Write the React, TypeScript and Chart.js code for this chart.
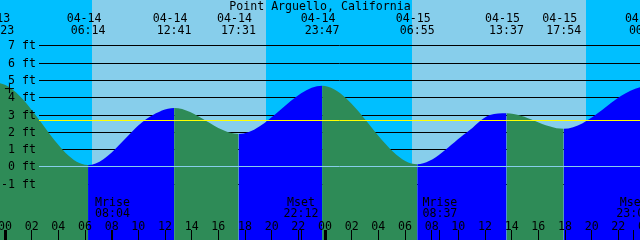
import React, { useEffect, useRef } from 'react';
import { Chart, registerables } from 'chart.js';

Chart.register(...registerables);

// ---- Data -------------------------------------------------------------
const TITLE = 'Point Arguello, California';

// Tide extremes ("MM-DD HH:MM") and heights (ft). First and last lie off-screen.
const extremeTimes = [
  '04-13 17:10', '04-13 23:23', '04-14 06:14', '04-14 12:41', '04-14 17:31',
  '04-14 23:47', '04-15 06:55', '04-15 13:37', '04-15 17:54', '04-16 00:06', '04-16 07:35',
];
const extremeHeights = [1.6, 4.85, 0.1, 3.4, 1.9, 4.7, 0.15, 3.1, 2.2, 4.65, 0.2];

// Extra heights
const midTimes = ['04-14 10:52', '04-15 10:39', '04-15 12:22'];
const midHeights = [2.9, 2.0, 3.0];

const sunriseTimes = ['04-14 06:30', '04-15 06:30'];
const sunsetTimes = ['04-14 19:33', '04-15 19:33'];

const moonLabels = ['Mrise', 'Mset', 'Mrise', 'Mset'];
const moonTimes = ['04-14 08:04', '04-14 22:12', '04-15 08:37', '04-15 23:09'];

const nowTimes = ['04-14 00:20'];
const nowHeights = [4.53];

const depthTicks = [-1, 0, 1, 2, 3, 4, 5, 6, 7];
const hourTicks = [0, 2, 4, 6, 8, 10, 12, 14, 16, 18, 20, 22, 24, 26, 28, 30, 32, 34, 36, 38, 40, 42, 44, 46, 48];
const hourLabels = ['00', '02', '04', '06', '08', '10', '12', '14', '16', '18', '20', '22',
  '00', '02', '04', '06', '08', '10', '12', '14', '16', '18', '20', '22', '00'];
const meanLevel = 2.67;

// ---- Style ------------------------------------------------------------
const X_MIN = -0.375;
const X_MAX = 47.625;
const Y_MIN = -4.236;
const Y_MAX = 9.658;
const NIGHT = '#00BFFF';
const DAY = '#87CEEB';
const FLOOD = '#0000FF';
const EBB = '#2E8B57';
const DATUM = '#87CEEB';
const MSL = '#FFFF00';
const FONT = '11.6px "DejaVu Sans Mono", monospace';

function toHours(s: string): number {
  const [md, hm] = s.split(' ');
  const day = parseInt(md.split('-')[1], 10);
  const [hh, mm] = hm.split(':').map(Number);
  return (day - 14) * 24 + hh + mm / 60;
}

const tidePoints = [
  ...extremeTimes.map((t, i) => ({ x: toHours(t), y: extremeHeights[i] })),
  ...midTimes.map((t, i) => ({ x: toHours(t), y: midHeights[i] })),
].sort((a, b) => a.x - b.x);

const decorPlugin = {
  id: 'tideDecor',
  beforeDatasetsDraw(chart: any) {
    const { ctx, width, height } = chart;
    const x = chart.scales.x;
    const y = chart.scales.y;
    ctx.save();
    ctx.fillStyle = NIGHT;
    ctx.fillRect(0, 0, width, height);
    ctx.fillStyle = DAY;
    for (let i = 0; i < sunriseTimes.length; i++) {
      const a = Math.round(x.getPixelForValue(toHours(sunriseTimes[i])));
      const b = Math.round(x.getPixelForValue(toHours(sunsetTimes[i])));
      ctx.fillRect(a, 0, b - a, height);
    }
    ctx.strokeStyle = '#000';
    ctx.lineWidth = 1;
    for (const v of depthTicks) {
      if (v === 0) continue;
      const row = Math.round(y.getPixelForValue(v) - 0.5);
      ctx.beginPath();
      ctx.moveTo(39, row + 0.5);
      ctx.lineTo(width, row + 0.5);
      ctx.stroke();
    }
    ctx.restore();
  },
  afterDatasetsDraw(chart: any) {
    const { ctx, width } = chart;
    const x = chart.scales.x;
    const y = chart.scales.y;
    ctx.save();
    ctx.lineWidth = 1;
    const hline = (v: number, color: string) => {
      const row = Math.round(y.getPixelForValue(v) - 0.5);
      ctx.strokeStyle = color;
      ctx.beginPath();
      ctx.moveTo(39, row + 0.5);
      ctx.lineTo(width, row + 0.5);
      ctx.stroke();
    };
    hline(0, DATUM);
    hline(meanLevel, MSL);

    ctx.font = FONT;
    ctx.fillStyle = '#000';
    ctx.textBaseline = 'alphabetic';

    // depth labels
    ctx.textAlign = 'right';
    for (const v of depthTicks) {
      const row = Math.round(y.getPixelForValue(v) - 0.5);
      ctx.fillText(`${v} ft`, 36, row + 4);
    }

    // title
    ctx.textAlign = 'center';
    ctx.fillText(TITLE, 320, 10);

    // tide event labels
    for (let i = 1; i < extremeTimes.length - 1; i++) {
      const px = x.getPixelForValue(toHours(extremeTimes[i]));
      const [md, hm] = extremeTimes[i].split(' ');
      ctx.fillText(md, px - 4, 22);
      ctx.fillText(hm, px, 34);
    }

    // moon labels and ticks
    for (let i = 0; i < moonTimes.length; i++) {
      const px = x.getPixelForValue(toHours(moonTimes[i]));
      ctx.fillText(moonLabels[i], px, 206);
      ctx.fillText(moonTimes[i].split(' ')[1], px, 217);
      const col = Math.floor(px);
      ctx.fillRect(col, 230, 1, 10);
    }

    // hour ticks
    for (let i = 0; i < hourTicks.length; i++) {
      const px = x.getPixelForValue(hourTicks[i]);
      const col = Math.floor(px);
      if (hourTicks[i] % 24 === 0) ctx.fillRect(col - 1, 230, 3, 10);
      else ctx.fillRect(col, 230, 1, 10);
      ctx.fillText(hourLabels[i], px, 230);
    }
    ctx.restore();
  },
};

export default function App() {
  const ref = useRef<HTMLCanvasElement>(null);
  useEffect(() => {
    document.body.style.margin = '0';
    const canvas = ref.current;
    if (!canvas) return;
    const chart = new Chart(canvas, {
      type: 'line',
      data: {
        datasets: [
          {
            label: 'now',
            data: nowTimes.map((t, i) => ({ x: toHours(t), y: nowHeights[i] })),
            showLine: false,
            pointStyle: 'cross',
            pointRadius: 4.5,
            pointBorderColor: '#000',
            pointBorderWidth: 1,
            borderColor: '#000',
            fill: false,
          },
          {
            label: 'tide',
            data: tidePoints,
            borderColor: 'rgba(0,0,0,0)',
            borderWidth: 0,
            pointRadius: 0,
            fill: 'start',
            backgroundColor: EBB,
            cubicInterpolationMode: 'monotone',
            capBezierPoints: false,
            segment: {
              backgroundColor: (c: any) => (c.p1.parsed.y > c.p0.parsed.y ? FLOOD : EBB),
            },
          } as any,
        ],
      },
      options: {
        animation: false,
        responsive: false,
        maintainAspectRatio: false,
        events: [],
        layout: { padding: 0, autoPadding: false },
        plugins: { legend: { display: false }, tooltip: { enabled: false } },
        scales: {
          x: { type: 'linear', min: X_MIN, max: X_MAX, display: false },
          y: { type: 'linear', min: Y_MIN, max: Y_MAX, display: false },
        },
      } as any,
      plugins: [decorPlugin],
    });
    return () => chart.destroy();
  }, []);
  return (
    <div style={{ width: 640, height: 240 }}>
      <canvas ref={ref} width={640} height={240} style={{ display: 'block', width: 640, height: 240 }} />
    </div>
  );
}
